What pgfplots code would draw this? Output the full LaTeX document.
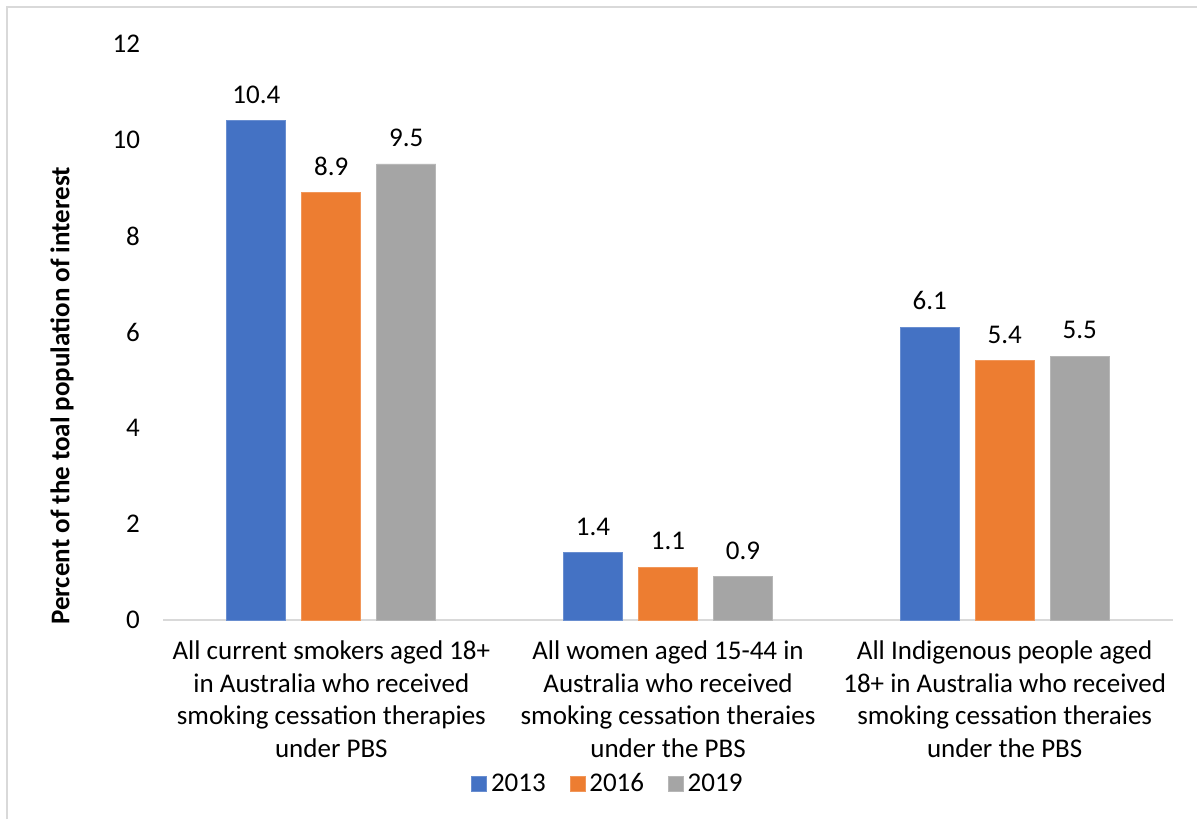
\documentclass[border=0pt]{standalone}
\usepackage{pgfplots}
\pgfplotsset{compat=1.18}
\usepackage{fontspec}
\setmainfont{Carlito}
\definecolor{c2013}{HTML}{4472C4}
\definecolor{c2016}{HTML}{ED7D31}
\definecolor{c2019}{HTML}{A5A5A5}
\definecolor{axisgray}{HTML}{D9D9D9}
\newcommand{\chartfont}{\fontsize{13.5}{16.2}\selectfont}
\begin{document}
\begin{tikzpicture}
% canvas 1197x819 px at 0.5pt per px, axis corner at px (163,620)
\path[use as bounding box] (-81.5pt,-99.5pt) rectangle (517pt,310pt);
\draw[axisgray, line width=1pt] (-78pt,-99.5pt) -- (-78pt,306.5pt) -- (517pt,306.5pt);
\begin{axis}[
  at={(0,0)}, anchor=south west,
  scale only axis,
  width=505pt, height=288pt,
  ymin=0, ymax=12,
  xmin=-0.5, xmax=2.5,
  ybar=8pt,
  bar width=29.5pt,
  axis line style={draw=none},
  axis x line*=bottom,
  axis y line*=left,
  xtick={0,1,2},
  xticklabels={
    {All current smokers aged 18+\\in Australia who received\\smoking cessation therapies\\under PBS},
    {All women aged 15-44 in\\Australia who received\\smoking cessation theraies\\under the PBS},
    {All Indigenous people aged\\18+ in Australia who received\\smoking cessation theraies\\under the PBS}},
  xticklabel style={align=center, font=\chartfont, yshift=-7pt},
  ytick={0,2,...,12},
  yticklabel style={font=\chartfont, xshift=-8pt},
  /pgf/number format/assume math mode=true,
  major tick length=0pt,
  ylabel={\textbf{Percent of the toal population of interest}},
  ylabel style={at={(axis description cs:-0.1,0.389)}, anchor=center, font=\chartfont},
  nodes near coords,
  nodes near coords style={font=\chartfont, yshift=5pt, /pgf/number format/fixed, /pgf/number format/precision=1},
  legend style={at={(axis description cs:0.4415,-0.285)}, anchor=center, draw=none,
    legend columns=-1, font=\chartfont,
    /tikz/every even column/.append style={column sep=10pt}},
  legend image code/.code={\fill[#1] (0pt,-3.7pt) rectangle (7.4pt,3.7pt);},
  clip=false,
]
\draw[axisgray, line width=1pt] (axis cs:-0.5,0) -- (axis cs:2.5,0);
\addplot[fill=c2013, draw=c2013!80!white] coordinates {(0,10.4) (1,1.4) (2,6.1)};
\addplot[fill=c2016, draw=c2016!80!white] coordinates {(0,8.9) (1,1.1) (2,5.4)};
\addplot[fill=c2019, draw=c2019!80!white] coordinates {(0,9.5) (1,0.9) (2,5.5)};
\legend{2013,2016,2019}
\end{axis}
\end{tikzpicture}
\end{document}
